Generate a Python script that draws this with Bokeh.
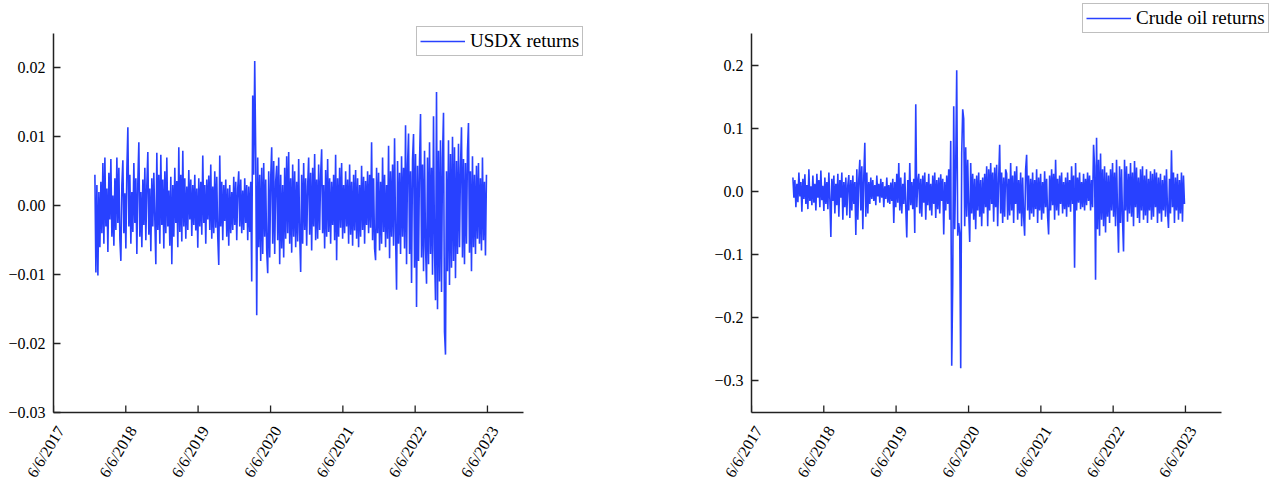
import pandas as pd
from bokeh.plotting import figure
from bokeh.layouts import row
from bokeh.models import FixedTicker, Range1d
from bokeh.embed import file_html
from bokeh.resources import INLINE

# ---------------- data ----------------
start_date = "2018-01-01"
end_date = "2023-06-01"
origin_date = "2017-06-06"

# USDX daily returns, in basis points (1e-4), sampled along the time axis
usdx_bp = [
    45, -97, 30, -101, 20, -60, 35, -40, 62, -55, 70, -30, 25, -67, 48, -20, 68, -45, 15, -58,
    40, -35, 70, -25, 55, -48, -80, 30, 66, -40, 18, -62, 52, 114, -30, 45, -55, 20, -38, 62,
    -25, 40, -70, 35, 92, -45, 20, -60, 38, -28, 55, -50, 30, 78, -42, 25, -66, 40, -30, 48,
    -20, -85, 77, -35, 45, -55, 74, -28, 38, -62, 50, -40, 70, -30, 22, -58, 42, -85, 30, -45,
    55, -25, 36, -60, 85, -38, 45, -52, 80, -30, 40, -48, 28, -35, 52, -20, 38, -44, 30, -28,
    45, -36, 25, -61, 40, -30, 35, -42, 73, -25, 30, -55, 38, -20, 44, -35, 60, -48, 28, -40,
    50, -32, 42, -45, -86, 73, -30, 35, -50, 30, -22, 38, -45, 25, -58, 30, -40, 20, -35, 42,
    -28, 35, -50, 25, 50, -30, 38, -40, 22, -35, 40, -25, 30, -50, 28, -38, 35, -110, 160, 45,
    210, 75, -159, 70, -60, 45, -80, 55, -70, 62, -45, 38, -65, -98, 50, -75, 40, 85, -55, 65,
    -70, 35, 58, -50, 70, -85, 45, -62, 30, -75, 55, -48, 72, -40, 78, -55, 40, -68, 60, -45,
    50, -60, 35, -52, 68, -40, -96, 45, -55, 62, -35, 40, -58, 28, 70, -42, 48, -65, 55, -30,
    75, -50, 38, -48, 60, -35, 45, 82, -40, 30, -62, 52, -45, 68, -38, 40, -55, 35, -28, 45,
    -50, 74, -79, 40, -45, 55, -32, 62, -48, 30, -40, 50, -30, 38, -55, 60, -42, 35, -58, 45,
    -36, 52, -48, 40, -60, 30, -45, 58, -35, 42, -55, 36, -28, 50, -40, 45, -32, 92, -50, 40,
    -62, -79, 55, -40, 48, -65, 35, -55, 70, -38, 45, -60, 30, -48, 87, -76, 50, -45, 60, -58,
    98, -40, -122, 65, -55, 48, -70, 72, -45, 55, -62, 117, -85, 60, 105, -70, 50, -112, 68, 104,
    -90, 75, -147, 58, -80, 65, 133, -75, 60, -95, 80, -60, -113, 70, -85, 92, -70, 55, -100, 130,
    -65, -137, 165, -150, 80, -110, 95, -125, 70, 135, -183, -216, 50, -95, 95, -115, 75, -90, 100, -80,
    85, -105, 65, -70, 90, -60, 55, 114, -75, 68, -85, 62, -55, 80, 120, -68, 50, -95, 72, -60,
    45, -70, 58, -48, 62, -55, 40, -65, 70, -50, 35, -72, 45,
]

# Crude oil daily returns, in units of 1e-3, sampled along the time axis
crude_milli = [
    22, -10, 18, -25, 12, -17, 30, -8, 15, -32, 20, -12, 27, -20, 10, -28, 35, -15, 8, -22,
    25, -18, 12, -30, 28, -10, 18, -25, 33, -14, 9, -31, 22, -20, 15, -28, 30, -12, -72, 20,
    -15, 25, -35, 12, -22, 28, -40, 18, -10, 30, -45, 15, -25, 22, -38, 10, 26, -42, 18, -30,
    25, -20, 15, -69, 35, -45, 20, 50, -30, 40, -60, 25, 77, -40, 30, -35, 15, -20, 22, -12,
    18, -15, 10, -22, 25, -8, 12, -18, 20, -10, 15, -25, 8, -12, 22, -18, 10, -20, 14, -15,
    20, -50, 15, -25, 28, -18, 45, -30, 22, -35, 12, -20, 30, -25, -73, 18, -30, 45, -22, 15,
    -28, 20, -66, 138, -25, 15, 28, -35, 20, -40, 25, -18, 30, -45, 15, -22, 28, -30, 12, -38,
    25, -20, 30, -42, 18, -28, 22, -35, 27, -15, 20, -68, 15, -30, 25, -20, 35, -45, 80, -276,
    -145, 135, -60, 40, 192, -70, -50, -65, -280, 60, 130, 115, -55, 70, -40, 50, -30, -80, 45, -35,
    28, -45, 20, -60, 25, -30, 30, -40, 18, -55, 22, -35, 28, -25, 40, -55, 35, -30, 45, -20,
    30, -48, 38, -25, 42, -55, 20, 74, -35, 30, -50, 22, -40, 35, 28, -45, 20, -38, 45, -30,
    25, -50, 32, -20, 40, -45, 18, -35, 30, -55, 22, -40, -70, 35, 58, -30, 25, -45, 20, -35,
    30, -40, 18, -28, 35, -50, 22, -30, 28, -45, 15, -35, 32, -25, 20, -40, -68, 25, -30, 35,
    -22, 28, -45, 50, -30, 20, -38, 25, -20, 30, -35, 15, -28, 22, -40, 30, -25, 18, -32, 40,
    -20, 25, -121, 45, -30, 22, -18, 30, -28, 15, -25, 28, -30, 20, -22, 30, -15, 25, -30, 18,
    -25, 74, 40, -140, 85, -60, 50, -70, 60, -45, 35, -55, 40, -65, 30, -40, 25, -50, 35, -30,
    45, -40, 30, -55, 50, -35, -97, 40, -50, 35, -45, -95, 50, -30, 40, -48, 28, -35, 45, -40,
    30, -55, 48, -25, 38, -42, 22, -50, 35, -30, 40, -45, 25, -38, 35, -50, 20, -30, 32, -45,
    28, -40, 35, -25, 30, -50, 22, -35, 28, -48, 18, -30, 25, -40, 35, -30, -58, 20, -35, 65,
    -25, 30, -50, 22, -30, 28, -45, 18, -35, 30, -48, 25, -20,
]

tick_dates = ["2017-06-06", "2018-06-06", "2019-06-06", "2020-06-06",
              "2021-06-06", "2022-06-06", "2023-06-06"]
tick_labels = ["6/6/2017", "6/6/2018", "6/6/2019", "6/6/2020",
               "6/6/2021", "6/6/2022", "6/6/2023"]

usdx_yticks = [-0.03, -0.02, -0.01, 0.0, 0.01, 0.02]
usdx_ylabels = ["\u22120.03", "\u22120.02", "\u22120.01", "0.00", "0.01", "0.02"]
usdx_ylim = (-0.03, 0.025)
crude_yticks = [-0.3, -0.2, -0.1, 0.0, 0.1, 0.2]
crude_ylabels = ["\u22120.3", "\u22120.2", "\u22120.1", "0.0", "0.1", "0.2"]
crude_ylim = (-0.35, 0.25)
x_days_span = 2373  # axis spans 6/6/2017 .. ~Dec 2023, in days

# ---------------- helpers ----------------
origin = pd.Timestamp(origin_date)
day = pd.Timedelta(days=1)


def day_positions(n):
    d = pd.date_range(start_date, end_date, periods=n)
    return list((d - origin) / day)


tick_pos = [int((pd.Timestamp(t) - origin) / day) for t in tick_dates]

usdx = [v * 1e-4 for v in usdx_bp]
crude = [v * 1e-3 for v in crude_milli]

LINE = "#2841ff"
AXC = "#222222"
FONT = "Liberation Serif"
AXIS_W = 470      # drawn axis length in px
AXIS_H = 379      # drawn axis height in px
TOP_GAP = 31      # px between frame top and axis top (room for legend)
BORDER_TOP = 2
FRAME_H = AXIS_H + TOP_GAP
BORDER_BOTTOM = 66
LABEL_SHIFT_PX = 7
TICK_LEN = 7


def make_fig(left, frame_w, right, x, y, ylim, yticks, ylabels, name, legend_xy):
    x_end = x_days_span * frame_w / AXIS_W
    ymin, ymax = ylim
    y_top = ymax + (ymax - ymin) * TOP_GAP / AXIS_H
    p = figure(frame_width=frame_w, frame_height=FRAME_H,
               output_backend="svg", toolbar_location=None,
               x_range=Range1d(0, x_end), y_range=Range1d(ymin, y_top),
               min_border_left=left, min_border_right=right,
               min_border_top=BORDER_TOP, min_border_bottom=BORDER_BOTTOM)
    p.outline_line_color = None
    p.xgrid.visible = False
    p.ygrid.visible = False
    p.background_fill_color = "white"
    p.border_fill_color = "white"

    p.line(x, y, line_color=LINE, line_width=1.6, legend_label=name)

    # x tick marks (inside), at the tick dates
    tick_h = (ymax - ymin) * TICK_LEN / AXIS_H
    p.segment(x0=tick_pos, y0=[ymin] * len(tick_pos), x1=tick_pos,
              y1=[ymin + tick_h] * len(tick_pos), line_color=AXC, line_width=1.3)

    # x axis: line + rotated date labels, labels nudged right like the reference
    shift = LABEL_SHIFT_PX * x_days_span / AXIS_W
    p.extra_x_ranges = {"lbl": Range1d(-shift, x_end - shift)}
    xa = p.xaxis[0]
    xa.x_range_name = "lbl"
    xa.bounds = (-shift, x_days_span - shift)
    xa.ticker = FixedTicker(ticks=tick_pos)
    xa.major_label_overrides = dict(zip(tick_pos, tick_labels))
    xa.axis_line_color = AXC
    xa.axis_line_width = 1.5
    xa.major_tick_line_color = None
    xa.major_tick_in = 0
    xa.major_tick_out = 0
    xa.minor_tick_in = 0
    xa.minor_tick_out = 0
    xa.major_label_orientation = 1.02
    xa.major_label_standoff = 15
    xa.major_label_text_font = FONT
    xa.major_label_text_font_size = "16px"
    xa.major_label_text_color = "black"

    ya = p.yaxis[0]
    ya.bounds = ylim
    ya.ticker = FixedTicker(ticks=yticks)
    ya.major_label_overrides = dict(zip(yticks, ylabels))
    ya.axis_line_color = AXC
    ya.axis_line_width = 1.5
    ya.major_tick_line_color = AXC
    ya.major_tick_line_width = 1.3
    ya.major_tick_in = TICK_LEN
    ya.major_tick_out = 0
    ya.minor_tick_in = 0
    ya.minor_tick_out = 0
    ya.major_label_standoff = 8
    ya.major_label_text_font = FONT
    ya.major_label_text_font_size = "16px"
    ya.major_label_text_color = "black"

    lg = p.legend[0]
    lg.location = legend_xy
    lg.label_text_font = FONT
    lg.label_text_font_size = "19px"
    lg.label_text_color = "black"
    lg.glyph_width = 45
    lg.glyph_height = 18
    lg.label_standoff = 5
    lg.padding = 3
    lg.margin = 0
    lg.spacing = 0
    lg.border_line_color = "#808080"
    lg.border_line_width = 1
    lg.background_fill_alpha = 1.0
    return p


# left panel: axis from x=53; right panel: axis from x=751 (page coords)
p1 = make_fig(53, 531, 64, day_positions(len(usdx)), usdx, usdx_ylim,
              usdx_yticks, usdx_ylabels, "USDX returns", (363, 356))
p2 = make_fig(103, 518, 7, day_positions(len(crude)), crude, crude_ylim,
              crude_yticks, crude_ylabels, "Crude oil returns", (331, 379))

layout = row(p1, p2)
open("out.html", "w").write(file_html(layout, INLINE))
